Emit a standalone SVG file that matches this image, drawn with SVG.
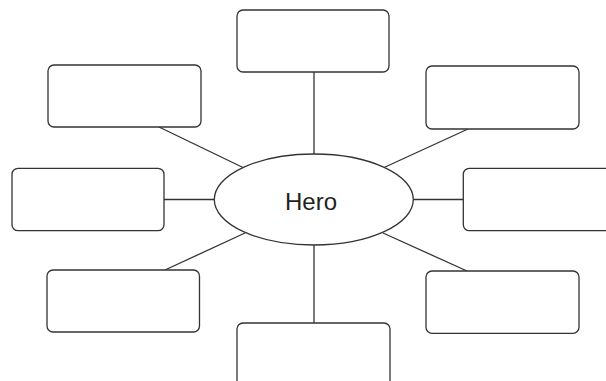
<svg xmlns="http://www.w3.org/2000/svg" width="606" height="381" viewBox="0 0 606 381">
<style>
.box{fill:#fff;stroke:#333;stroke-width:1.3}
.ln{stroke:#333;stroke-width:1.3;fill:none}
.lbl{font-family:"Liberation Sans",Arial,sans-serif;font-size:24px;fill:#231f20}
</style>
<rect width="606" height="381" fill="#fff"/>
<g id="connectors">
<line class="ln" x1="314" y1="72" x2="314" y2="154"/>
<line class="ln" x1="314" y1="245" x2="314" y2="323"/>
<line class="ln" x1="164" y1="199.5" x2="214" y2="199.5"/>
<line class="ln" x1="413" y1="199.5" x2="463" y2="199.5"/>
<line class="ln" x1="159" y1="127" x2="244" y2="168"/>
<line class="ln" x1="468" y1="129" x2="383" y2="168"/>
<line class="ln" x1="165" y1="270" x2="245" y2="233"/>
<line class="ln" x1="467" y1="271" x2="383" y2="233"/>
</g>
<g id="hero">
<ellipse class="box" cx="313.8" cy="199.5" rx="99.5" ry="45.5"/>
<text class="lbl" x="311" y="210" text-anchor="middle">Hero</text>
</g>
<g id="box-top"><rect class="box" x="237" y="10" width="152" height="62" rx="6"/></g>
<g id="box-upper-left"><rect class="box" x="48" y="65" width="153" height="62" rx="6"/></g>
<g id="box-upper-right"><rect class="box" x="426" y="66" width="153" height="63" rx="6"/></g>
<g id="box-left"><rect class="box" x="12" y="168.3" width="152" height="62.4" rx="6"/></g>
<g id="box-right"><rect class="box" x="463.3" y="168.3" width="152" height="62.4" rx="6"/></g>
<g id="box-lower-left"><rect class="box" x="47" y="270" width="152.5" height="62" rx="6"/></g>
<g id="box-lower-right"><rect class="box" x="426" y="271" width="153" height="62.3" rx="6"/></g>
<g id="box-bottom"><rect class="box" x="237" y="323" width="153" height="70" rx="6"/></g>
</svg>
